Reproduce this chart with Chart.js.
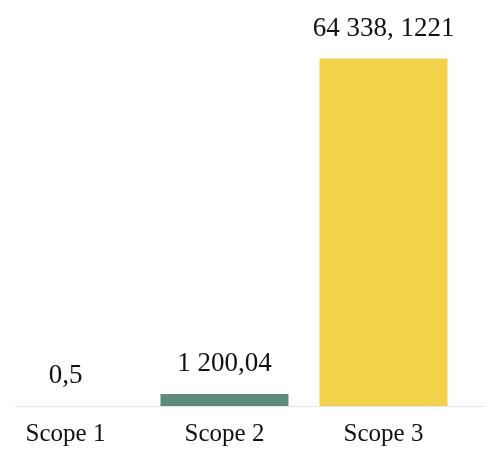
<!DOCTYPE html>
<html>
<head>
<meta charset="utf-8">
<script src="https://cdn.jsdelivr.net/npm/chart.js@4.4.1/dist/chart.umd.min.js"></script>
<style>
  html, body { margin: 0; padding: 0; background: #ffffff; overflow: hidden; }
  body { width: 488px; height: 452px; position: relative; }
  #wrap { position: absolute; left: -14px; top: 0; width: 502px; height: 463px; }
</style>
</head>
<body>
<div id="wrap"><canvas id="c"></canvas></div>
<script>
const categories = ['Scope 1', 'Scope 2', 'Scope 3'];
const values = [0.5, 1200.04, 64338.1221];
const valueLabels = ['0,5', '1 200,04', '64 338, 1221'];
const barColors = ['#5e8b7e', '#5e8b7e', '#f3d24b'];

const FONT = "'Liberation Serif', 'DejaVu Serif', serif";

// Scope 2 is drawn with a minimum visible thickness, as in the reference
const thinIdx = [1];
const mainData = values.map((v, i) => thinIdx.includes(i) ? null : v);
const thinData = values.map((v, i) => thinIdx.includes(i) ? v : null);

const valueLabelPlugin = {
  id: 'valueLabels',
  afterDatasetsDraw(chart) {
    const ctx = chart.ctx;
    ctx.save();
    ctx.font = "27px " + FONT;
    ctx.fillStyle = '#111111';
    ctx.textAlign = 'center';
    ctx.textBaseline = 'alphabetic';
    categories.forEach((c, i) => {
      let el = null;
      chart.data.datasets.forEach((ds, di) => {
        if (ds.data[i] !== null && ds.data[i] !== undefined) {
          el = chart.getDatasetMeta(di).data[i];
        }
      });
      if (!el) return;
      ctx.fillText(valueLabels[i], el.x, el.y - 23);
    });
    ctx.restore();
  }
};

const baselinePlugin = {
  id: 'baseline',
  beforeDatasetsDraw(chart) {
    const ctx = chart.ctx;
    const y = Math.round(chart.scales.y.getPixelForValue(0)) + 0.5;
    ctx.save();
    ctx.strokeStyle = '#e3e3e3';
    ctx.lineWidth = 1;
    ctx.beginPath();
    ctx.moveTo(29, y);
    ctx.lineTo(chart.width - 3, y);
    ctx.stroke();
    ctx.restore();
  }
};

new Chart(document.getElementById('c'), {
  type: 'bar',
  data: {
    labels: categories,
    datasets: [
      {
        data: mainData,
        backgroundColor: barColors,
        borderWidth: 0,
        grouped: false,
        categoryPercentage: 1,
        barPercentage: 0.805
      },
      {
        data: thinData,
        backgroundColor: barColors,
        borderWidth: 0,
        grouped: false,
        minBarLength: 12,
        categoryPercentage: 1,
        barPercentage: 0.805
      }
    ]
  },
  options: {
    responsive: true,
    maintainAspectRatio: false,
    animation: false,
    events: [],
    layout: { padding: { top: 28, right: 25, bottom: 0, left: 0 } },
    plugins: {
      legend: { display: false },
      tooltip: { enabled: false },
      title: { display: false }
    },
    scales: {
      x: {
        grid: { display: false, drawTicks: false },
        border: { display: false },
        ticks: {
          padding: 13.5,
          color: '#111111',
          font: { family: FONT, size: 25 }
        }
      },
      y: {
        display: false,
        min: 0,
        max: 70000
      }
    }
  },
  plugins: [baselinePlugin, valueLabelPlugin]
});
</script>
</body>
</html>
